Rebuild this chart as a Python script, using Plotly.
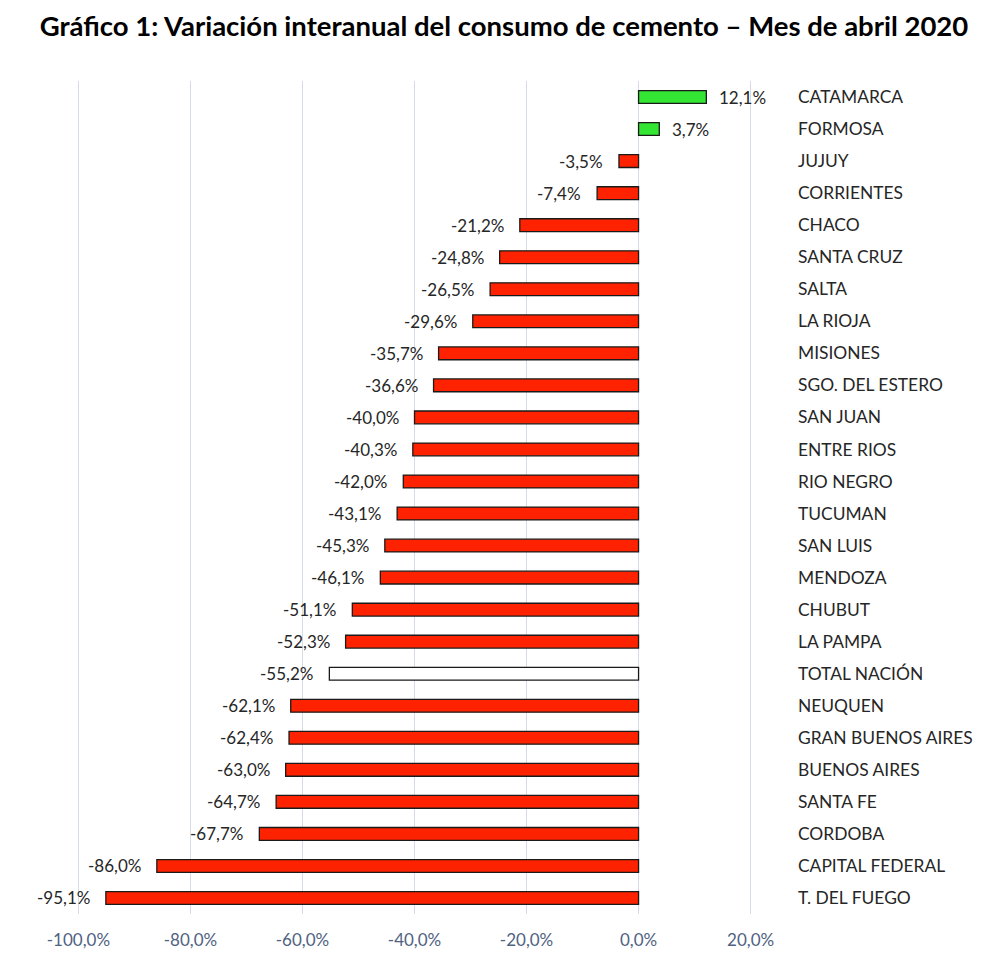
import plotly.graph_objects as go

provincias = ["CATAMARCA", "FORMOSA", "JUJUY", "CORRIENTES", "CHACO", "SANTA CRUZ",
              "SALTA", "LA RIOJA", "MISIONES", "SGO. DEL ESTERO", "SAN JUAN",
              "ENTRE RIOS", "RIO NEGRO", "TUCUMAN", "SAN LUIS", "MENDOZA", "CHUBUT",
              "LA PAMPA", "TOTAL NACIÓN", "NEUQUEN", "GRAN BUENOS AIRES",
              "BUENOS AIRES", "SANTA FE", "CORDOBA", "CAPITAL FEDERAL", "T. DEL FUEGO"]
variacion = [12.1, 3.7, -3.5, -7.4, -21.2, -24.8, -26.5, -29.6, -35.7, -36.6, -40.0,
             -40.3, -42.0, -43.1, -45.3, -46.1, -51.1, -52.3, -55.2, -62.1, -62.4,
             -63.0, -64.7, -67.7, -86.0, -95.1]
x_ticks = [-100, -80, -60, -40, -20, 0, 20]

def fmt(v):
    return f"{v:.1f}".replace(".", ",") + "%"

colors = []
for p, v in zip(provincias, variacion):
    if p == "TOTAL NACIÓN":
        colors.append("#FFFFFF")
    elif v >= 0:
        colors.append("#33E633")
    else:
        colors.append("#FF2200")

fig = go.Figure()
fig.add_trace(go.Bar(
    x=variacion, y=provincias, orientation="h",
    marker=dict(color=colors, line=dict(color="#1a1a1a", width=1.3)),
    width=0.4, hoverinfo="skip", showlegend=False,
))

for p, v in zip(provincias, variacion):
    fig.add_annotation(
        x=v, y=p, xref="x", yref="y", text=fmt(v), showarrow=False,
        xanchor="left" if v >= 0 else "right",
        xshift=11 if v >= 0 else -14,
        font=dict(family="Lato, Open Sans, sans-serif", size=17, color="#262626"),
    )

fig.update_layout(
    width=1000, height=967,
    margin=dict(l=56, r=227, t=81, b=53),
    paper_bgcolor="white", plot_bgcolor="white",
    title=dict(text="<b>Gráfico 1: Variación interanual del consumo de cemento – Mes de abril 2020</b>",
               x=0.504, xanchor="center", y=0.973, yanchor="middle",
               font=dict(family="Lato, Open Sans, sans-serif", size=27.5, color="#000000")),
    bargap=0.6,
)
fig.update_xaxes(
    range=[-104, 24], tickvals=x_ticks, ticktext=[fmt(float(t)) for t in x_ticks],
    showgrid=True, gridcolor="#D6DCE4", gridwidth=1,
    zeroline=True, zerolinecolor="#D6DCE4", zerolinewidth=1,
    showline=False, ticks="", ticklabelstandoff=14,
    tickfont=dict(family="Lato, Open Sans, sans-serif", size=17, color="#4F6282"),
)
fig.update_yaxes(
    categoryorder="array", categoryarray=provincias, autorange="reversed",
    side="right", showgrid=False, showline=False, ticks="", zeroline=False,
    ticklabelstandoff=24,
    tickfont=dict(family="Lato, Open Sans, sans-serif", size=17.4, color="#262626"),
)

fig.write_html("out.html")
